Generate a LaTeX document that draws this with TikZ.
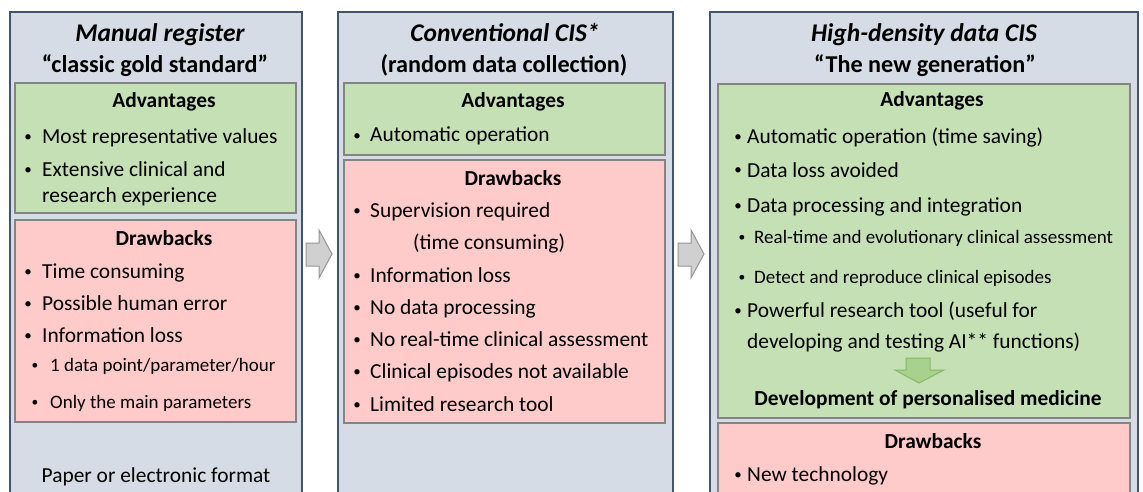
\documentclass[tikz,border=0pt]{standalone}
\usepackage{fontspec}
\setmainfont{Carlito}
\usepackage{tikz}
\usetikzlibrary{positioning}

\definecolor{panelfill}{HTML}{D6DCE5}
\definecolor{panelline}{HTML}{44546A}
\definecolor{prosfill}{HTML}{C5E0B4}
\definecolor{consfill}{HTML}{FFCACA}
\definecolor{boxline}{HTML}{848484}
\definecolor{arrowfill}{HTML}{D0D0D0}
\definecolor{arrowline}{HTML}{959595}
\definecolor{greenfill}{HTML}{A9D18E}
\definecolor{greenline}{HTML}{86B865}

\tikzset{
	panel/.style={draw=panelline, line width=2.6pt, fill=panelfill},
	prosbox/.style={draw=boxline, line width=1.3pt, fill=prosfill},
	consbox/.style={draw=boxline, line width=1.3pt, fill=consfill},
	steparrow/.style={draw=arrowline, fill=arrowfill, line width=1pt},
	downarrow/.style={draw=greenline, fill=greenfill, line width=1pt},
	title/.style={font=\fontsize{25.5}{30}\selectfont\bfseries\itshape, anchor=base, inner sep=0pt},
	subtitle/.style={font=\fontsize{24.2}{29}\selectfont\bfseries, anchor=base, inner sep=0pt},
	boxhead/.style={font=\fontsize{21.4}{26}\selectfont\bfseries, anchor=base, inner sep=0pt},
	bul/.style={font=\fontsize{15}{18}\selectfont, anchor=base, inner sep=0pt, yshift=2pt},
	txt/.style={font=\fontsize{21.4}{26}\selectfont, anchor=base west, inner sep=0pt},
	smallbul/.style={font=\fontsize{13.5}{16}\selectfont, anchor=base, inner sep=0pt, yshift=1.5pt},
	smalltxt/.style={font=\fontsize{19}{22}\selectfont, anchor=base west, inner sep=0pt},
	plain/.style={font=\fontsize{21.4}{26}\selectfont, anchor=base, inner sep=0pt}
}

\begin{document}
\begin{tikzpicture}[x=1pt,y=-1pt]
	\fill[white] (0,0) rectangle (1143,492);
	\useasboundingbox (0,0) rectangle (1143,492);
	\clip (0,0) rectangle (1143,492);

	% the three columns
	\draw[panel] (10,12) rectangle (302,505);
	\draw[panel] (338,12) rectangle (673,505);
	\draw[panel] (710,12) rectangle (1138,505);

	\draw[prosbox] (15,83) rectangle (296,213);
	\draw[consbox] (15,220) rectangle (296,422);
	\draw[prosbox] (344,83) rectangle (665,155);
	\draw[consbox] (344,160) rectangle (665,423);
	\draw[prosbox] (718,84) rectangle (1130,418);
	\draw[consbox] (718,423) rectangle (1130,505);

	% arrows between the columns
	\filldraw[steparrow] (306,243) -- (319,243) -- (319,230) -- (332,254) -- (319,278) -- (319,266) -- (306,266) -- cycle;
	\filldraw[steparrow] (678,243) -- (691,243) -- (691,230) -- (704,254) -- (691,278) -- (691,266) -- (678,266) -- cycle;
	\filldraw[downarrow] (906,358) -- (930,358) -- (930,370) -- (944,370) -- (919,383) -- (895,370) -- (906,370) -- cycle;

	% manual register
	\node[title] (mTitle) at (160,42) {Manual register};
	\node[subtitle] (mSub) at (155,73) {“classic gold standard”};
	\node[boxhead] (mPros) at (164,108) {Advantages};
	\node[bul] (mb1) at (28,144) {•};
	\node[txt] (mp1) at (42,144) {Most representative values};
	\node[bul] (mb2) at (28,176) {•};
	\node[txt] (mp2) at (42,176) {Extensive clinical and};
	\node[txt] (mp3) at (42,202) {research experience};
	\node[boxhead] (mCons) at (164,245) {Drawbacks};
	\node[bul] (mb3) at (28,278) {•};
	\node[txt] (mc1) at (42,278) {Time consuming};
	\node[bul] (mb4) at (28,310) {•};
	\node[txt] (mc2) at (42,310) {Possible human error};
	\node[bul] (mb5) at (28,342) {•};
	\node[txt] (mc3) at (42,342) {Information loss};
	\node[smallbul] (mb6) at (35,371) {•};
	\node[smalltxt] (mc4) at (50,371) {1 data point/parameter/hour};
	\node[smallbul] (mb7) at (35,408) {•};
	\node[smalltxt] (mc5) at (50,408) {Only the main parameters};
	\node[plain] (mFormat) at (156,482) {Paper or electronic format};

	% conventional CIS
	\node[title] (cTitle) at (505,42) {Conventional CIS*};
	\node[subtitle] (cSub) at (504,73) {(random data collection)};
	\node[boxhead] (cPros) at (513,108) {Advantages};
	\node[bul] (cb1) at (357,142) {•};
	\node[txt] (cp1) at (370,142) {Automatic operation};
	\node[boxhead] (cCons) at (513,185) {Drawbacks};
	\node[bul] (cb2) at (357,217) {•};
	\node[txt] (cc1) at (370,217) {Supervision required};
	\node[txt] (cc2) at (413,249) {(time consuming)};
	\node[bul] (cb3) at (357,282) {•};
	\node[txt] (cc3) at (370,282) {Information loss};
	\node[bul] (cb4) at (357,314) {•};
	\node[txt] (cc4) at (370,314) {No data processing};
	\node[bul] (cb5) at (357,346) {•};
	\node[txt] (cc5) at (370,346) {No real-time clinical assessment};
	\node[bul] (cb6) at (357,378) {•};
	\node[txt] (cc6) at (370,378) {Clinical episodes not available};
	\node[bul] (cb7) at (357,411) {•};
	\node[txt] (cc7) at (370,411) {Limited research tool};

	% high-density data CIS
	\node[title] (hTitle) at (924,42) {High-density data CIS};
	\node[subtitle] (hSub) at (925,73) {“The new generation”};
	\node[boxhead] (hPros) at (932,107) {Advantages};
	\node[bul] (hb1) at (738,144) {•};
	\node[txt] (hp1) at (747,144) {Automatic operation (time saving)};
	\node[bul] (hb2) at (738,177) {•};
	\node[txt] (hp2) at (747,177) {Data loss avoided};
	\node[bul] (hb3) at (738,212) {•};
	\node[txt] (hp3) at (747,212) {Data processing and integration};
	\node[smallbul] (hb4) at (742,243) {•};
	\node[smalltxt] (hp4) at (754,243) {Real-time and evolutionary clinical assessment};
	\node[smallbul] (hb5) at (742,283) {•};
	\node[smalltxt] (hp5) at (754,283) {Detect and reproduce clinical episodes};
	\node[bul] (hb6) at (738,317) {•};
	\node[txt] (hp6) at (747,317) {Powerful research tool (useful for};
	\node[txt] (hp7) at (747,348) {developing and testing AI** functions)};
	\node[boxhead] (hGoal) at (928,405) {Development of personalised medicine};
	\node[boxhead] (hCons) at (933,448) {Drawbacks};
	\node[bul] (hb7) at (738,481) {•};
	\node[txt] (hc1) at (747,481) {New technology};
\end{tikzpicture}
\end{document}
